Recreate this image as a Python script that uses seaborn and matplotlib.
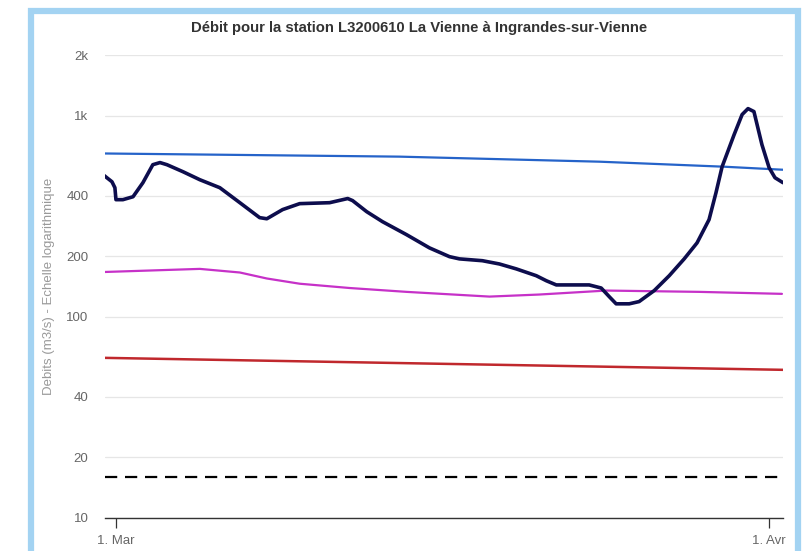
import numpy as np
import pandas as pd
import matplotlib
matplotlib.use("Agg")
import matplotlib.pyplot as plt
import matplotlib.patches as mpatches
import seaborn as sns

# ----------------------------------------------------------------------------
# Data (x = days since 1 March, y = m3/s)
# ----------------------------------------------------------------------------
obs_days = [-0.62, -0.19, -0.05, 0.0, 0.33, 0.81, 1.28, 1.75, 2.09, 2.42,
            3.18, 3.98, 4.93, 5.88, 6.82, 7.16, 7.91, 8.72, 10.14, 11.00,
            11.23, 11.90, 12.65, 13.79, 14.88, 15.83, 16.30, 17.39, 18.20,
            19.00, 19.95, 20.43, 20.90, 21.66, 22.46, 23.03, 23.41, 23.74,
            24.36, 24.83, 25.55, 26.26, 26.97, 27.58, 28.15, 28.48, 28.77,
            29.34, 29.72, 30.00, 30.28, 30.66, 31.00, 31.28, 31.66]
obs_flow = [509, 469, 438, 382, 382, 395, 464, 570, 584, 570,
            526, 480, 438, 369, 311, 307, 341, 365, 369, 387,
            378, 333, 297, 256, 220, 199, 194, 190, 183,
            173, 160, 151, 144, 144, 144, 139, 126, 116,
            116, 119, 135, 160, 194, 233, 304, 414, 557,
            804, 1012, 1083, 1047, 717, 551, 491, 464]

blue_days = [-0.52, 13.46, 22.94, 28.86, 31.66]
blue_flow = [648, 625, 590, 557, 538]

magenta_days = [-0.52, 3.98, 5.88, 7.16, 8.72, 11.09, 13.79, 17.73, 20.09,
                23.27, 27.68, 31.61]
magenta_flow = [167, 173, 166, 155, 146, 139, 133, 126, 129, 135, 133, 130]

red_days = [-0.52, 31.66]
red_flow = [62.5, 54.5]

dash_days = [-0.52, 31.66]
dash_flow = [16.0, 16.0]

y_ticks = [10, 20, 40, 100, 200, 400, 1000, 2000]
y_tick_labels = ["10", "20", "40", "100", "200", "400", "1k", "2k"]
x_ticks = [0, 31]
x_tick_labels = ["1. Mar", "1. Avr"]

TITLE = "Débit pour la station L3200610 La Vienne à Ingrandes-sur-Vienne"
YLABEL = "Debits (m3/s) - Echelle logarithmique"

# ----------------------------------------------------------------------------
sns.set_style("white")
plt.rcParams["font.family"] = ["Liberation Sans", "DejaVu Sans"]

W, H = 811, 551
fig = plt.figure(figsize=(W / 100, H / 100), dpi=100)
ax = fig.add_axes([105 / W, 1 - 518 / H, (783 - 105) / W, (518 - 55) / H])

series = [
    (red_days, red_flow, "#c0282d", 1.8, "-"),
    (magenta_days, magenta_flow, "#c631c8", 1.6, "-"),
    (blue_days, blue_flow, "#2563c9", 1.6, "-"),
    (obs_days, obs_flow, "#0d0d4d", 2.6, "-"),
]
for xs, ys, col, lw, ls in series:
    df = pd.DataFrame({"x": xs, "y": ys})
    sns.lineplot(df, x="x", y="y", ax=ax, color=col, linewidth=lw,
                 sort=False, estimator=None)
ax.lines[-1].set_solid_joinstyle("round")

df = pd.DataFrame({"x": dash_days, "y": dash_flow})
sns.lineplot(df, x="x", y="y", ax=ax, color="black", linewidth=1.6,
             dashes=False)
ax.lines[-1].set_dashes((5.5, 3.5))

ax.set_yscale("log")
ax.set_ylim(10, 2000)
ax.set_xlim(-0.52, 31.66)
ax.set_yticks(y_ticks)
ax.set_yticklabels(y_tick_labels)
ax.minorticks_off()
ax.set_xticks(x_ticks)
ax.set_xticklabels(x_tick_labels)
ax.yaxis.grid(True, color="#e6e6e6", linewidth=0.9)
ax.xaxis.grid(False)
for s in ["left", "right", "top"]:
    ax.spines[s].set_visible(False)
ax.spines["bottom"].set_color("#333333")
ax.spines["bottom"].set_linewidth(1.0)
ax.tick_params(axis="y", length=0, pad=12, labelsize=9.5, labelcolor="#666666")
ax.tick_params(axis="x", length=7, width=0.9, color="#333333", direction="out",
               pad=5, labelsize=9.5, labelcolor="#666666", bottom=True)
ax.set_xlabel("")
ax.set_ylabel(YLABEL, fontsize=9.5, color="#999999", labelpad=8)

fig.text(419 / W, 1 - 28 / H, TITLE, ha="center", va="center",
         fontsize=10.7, fontweight="bold", color="#333333")

# light blue frame around the chart
frame = mpatches.Rectangle((31 / W, -0.05), (797.5 - 31) / W, 1.05 - 10.5 / H,
                           transform=fig.transFigure, fill=False,
                           edgecolor="#a3d3f2", linewidth=4.5, zorder=10)
fig.patches.append(frame)

fig.savefig("out.png", dpi=100)
